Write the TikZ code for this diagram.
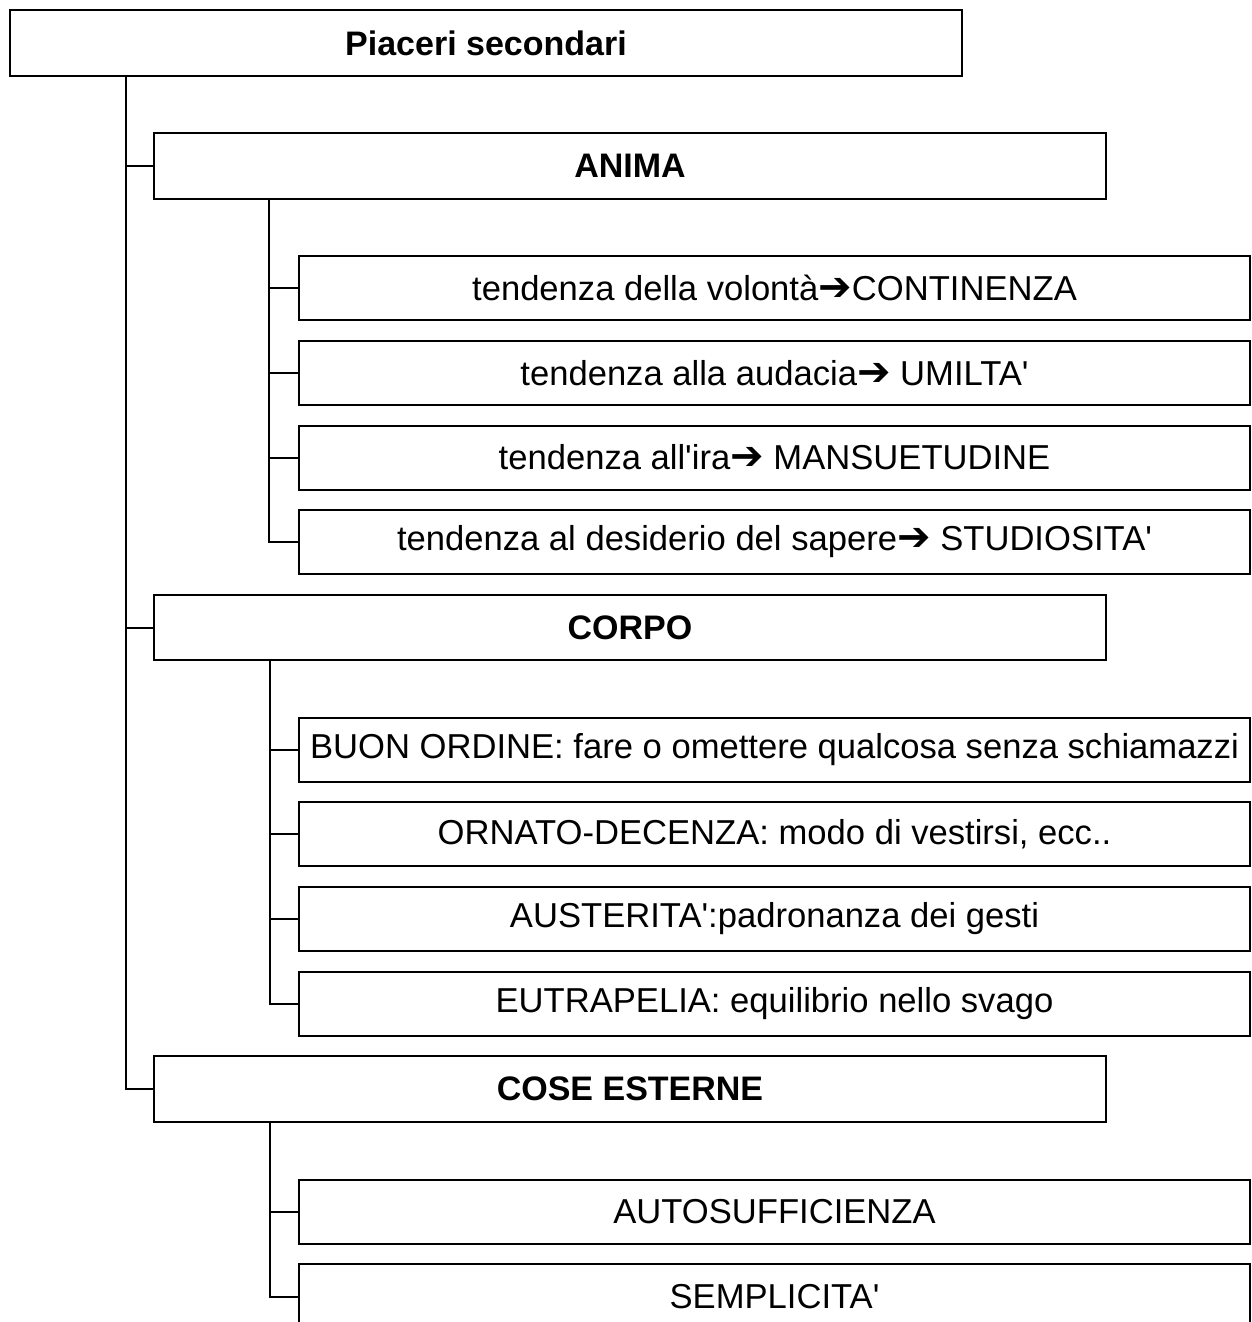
\documentclass[tikz,border=0pt]{standalone}
\usepackage{fontspec}
\setmainfont{Liberation Sans}
\newfontfamily\symfont{DejaVu Sans}
\newcommand{\arr}{{\symfont\fontsize{40}{40}\selectfont ➔}}
\newcommand{\q}{\textquotesingle}
\begin{document}
\begin{tikzpicture}[x=1pt,y=-1pt,
  box/.style={draw,line width=2pt,rectangle,inner sep=0pt,font=\fontsize{34.6}{40}\selectfont},
  hbox/.style={box,minimum width=952pt,minimum height=66pt,font=\fontsize{34}{40}\selectfont\bfseries},
  cbox/.style={box,minimum width=951pt,minimum height=64pt},
  conn/.style={line width=2pt}]
\useasboundingbox (0,0) rectangle (1251,1322);
\clip (0,0) rectangle (1251,1322);
\fill[white] (0,0) rectangle (1251,1322);

\node[hbox] (top) at (486,43) {Piaceri secondari};
\node[hbox] (anima) at (630,166) {ANIMA};
\node[hbox,minimum height=65pt] (corpo) at (630,627.5) {CORPO};
\node[hbox] (cose) at (630,1089) {COSE ESTERNE};

\node[cbox] (a1) at (774.5,288) {tendenza della volontà\arr CONTINENZA};
\node[cbox] (a2) at (774.5,373) {tendenza alla audacia\arr\ UMILTA\q};
\node[cbox] (a3) at (774.5,457.5) {tendenza all\q ira\arr\ MANSUETUDINE};
\node[cbox] (a4) at (774.5,542) {tendenza al desiderio del sapere\arr\ STUDIOSITA\q};

\node[cbox] (c1) at (774.5,749.5) {BUON ORDINE: fare o omettere qualcosa senza schiamazzi};
\node[cbox] (c2) at (774.5,834) {ORNATO-DECENZA: modo di vestirsi, ecc..};
\node[cbox] (c3) at (774.5,919) {AUSTERITA\q:padronanza dei gesti};
\node[cbox] (c4) at (774.5,1004) {EUTRAPELIA: equilibrio nello svago};

\node[cbox] (e1) at (774.5,1211.5) {AUTOSUFFICIENZA};
\node[cbox,minimum height=66pt] (e2) at (774.5,1297) {SEMPLICITA\q};

\coordinate (t0) at ([xshift=117pt]top.south west);
\draw[conn] (t0) |- (anima.west);
\draw[conn] (t0) |- (corpo.west);
\draw[conn] (t0) |- (cose.west);

\coordinate (s1) at ([xshift=116pt]anima.south west);
\foreach \n in {a1,a2,a3,a4} \draw[conn] (s1) |- (\n.west);
\coordinate (s2) at ([xshift=117pt]corpo.south west);
\foreach \n in {c1,c2,c3,c4} \draw[conn] (s2) |- (\n.west);
\coordinate (s3) at ([xshift=117pt]cose.south west);
\foreach \n in {e1,e2} \draw[conn] (s3) |- (\n.west);
\end{tikzpicture}
\end{document}
